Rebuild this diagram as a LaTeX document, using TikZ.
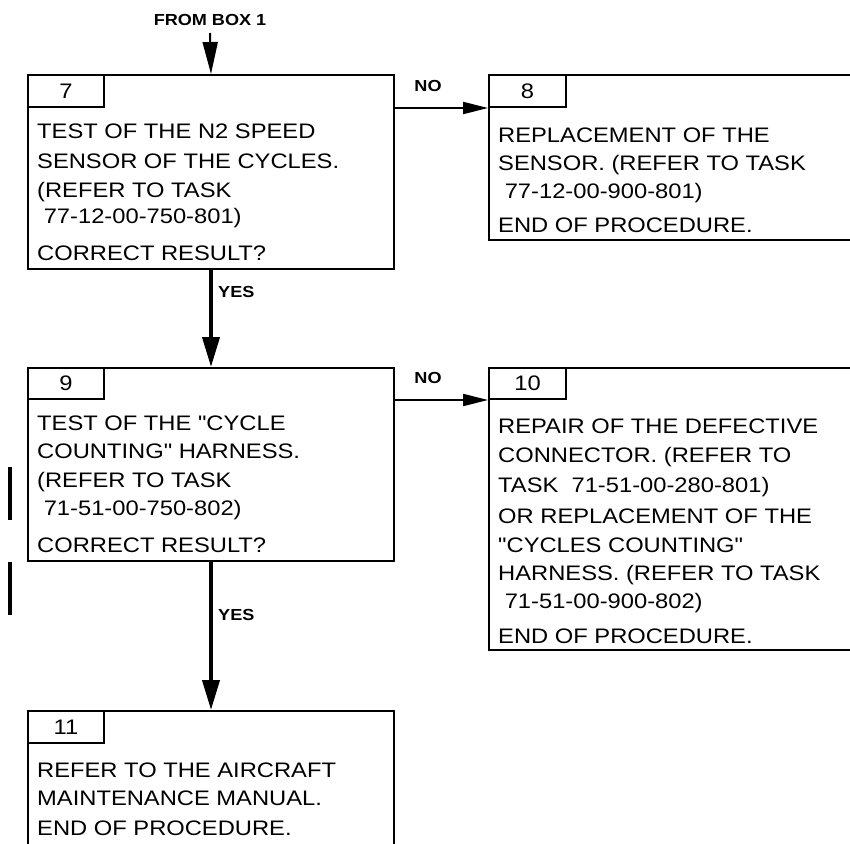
\documentclass[tikz,border=0pt]{standalone}
\usepackage{fontspec}
\setmainfont{Liberation Sans}[FakeStretch=1.13,Ligatures=TeXOff]
\usetikzlibrary{arrows.meta}
\newcommand{\bodyfnt}{\fontsize{21}{28}\selectfont}
\newcommand{\lblfnt}{\fontsize{16}{18}\selectfont\bfseries}
\begin{document}
\begin{tikzpicture}[x=1pt,y=-1pt,
  boxnode/.style={draw,line width=2pt,rectangle,anchor=north west,inner sep=0pt},
  tabnode/.style={draw,line width=2pt,rectangle,anchor=north west,inner sep=0pt,
     minimum width=76pt,minimum height=32pt,font=\bodyfnt},
  txt/.style={anchor=base west,inner sep=0pt,font=\bodyfnt},
  lbl/.style={inner sep=0pt,font=\lblfnt},
  bigarrow/.style={line width=4pt,-{Triangle[length=30pt,width=17pt]}},
  thinarrow/.style={line width=2pt,-{Triangle[length=32pt,width=15pt]}},
  sidearrow/.style={line width=2pt,-{Triangle[length=25pt,width=12pt]}},
  chgbar/.style={line width=4pt}]
\useasboundingbox (0,0) rectangle (850,843);
\clip (0,0) rectangle (850,843);
% boxes
\node[boxnode,minimum width=366pt,minimum height=194pt] (b7) at (27,74) {};
\node[tabnode] (t7) at (27,74) {7};
\node[boxnode,minimum width=390pt,minimum height=165pt] (b8) at (488,74) {};
\node[tabnode,minimum width=77pt] (t8) at (488,74) {8};
\node[boxnode,minimum width=366pt,minimum height=193pt] (b9) at (27,367) {};
\node[tabnode,minimum height=31pt] (t9) at (27,367) {9};
\node[boxnode,minimum width=390pt,minimum height=282pt] (b10) at (488,367) {};
\node[tabnode,minimum width=77pt,minimum height=31pt] (t10) at (488,367) {10};
\node[boxnode,minimum width=366pt,minimum height=160pt] (b11) at (27,710) {};
\node[tabnode] (t11) at (27,710) {11};
% box 7 text
\node[txt] (l7a) at (37,138) {TEST OF THE N2 SPEED};
\node[txt] (l7b) at (37,168) {SENSOR OF THE CYCLES.};
\node[txt] (l7c) at (37,197) {(REFER TO TASK};
\node[txt] (l7d) at (37,223) {\ 77-12-00-750-801)};
\node[txt] (l7e) at (37,260) {CORRECT RESULT?};
% box 8 text
\node[txt] (l8a) at (498,142) {REPLACEMENT OF THE};
\node[txt] (l8b) at (498,170) {SENSOR. (REFER TO TASK};
\node[txt] (l8c) at (498,198) {\ 77-12-00-900-801)};
\node[txt] (l8d) at (498,232) {END OF PROCEDURE.};
% box 9 text
\node[txt] (l9a) at (37,430) {TEST OF THE "CYCLE};
\node[txt] (l9b) at (37,458) {COUNTING" HARNESS.};
\node[txt] (l9c) at (37,487) {(REFER TO TASK};
\node[txt] (l9d) at (37,515) {\ 71-51-00-750-802)};
\node[txt] (l9e) at (37,552) {CORRECT RESULT?};
% box 10 text
\node[txt] (l10a) at (498,433) {REPAIR OF THE DEFECTIVE};
\node[txt] (l10b) at (498,462) {CONNECTOR. (REFER TO};
\node[txt] (l10c) at (498,492) {TASK\ \ 71-51-00-280-801)};
\node[txt] (l10d) at (498,523) {OR REPLACEMENT OF THE};
\node[txt] (l10e) at (498,552) {"CYCLES COUNTING"};
\node[txt] (l10f) at (498,580) {HARNESS. (REFER TO TASK};
\node[txt] (l10g) at (498,608) {\ 71-51-00-900-802)};
\node[txt] (l10h) at (498,643) {END OF PROCEDURE.};
% box 11 text
\node[txt] (l11a) at (37,777) {REFER TO THE AIRCRAFT};
\node[txt] (l11b) at (37,805) {MAINTENANCE MANUAL.};
\node[txt] (l11c) at (37,835) {END OF PROCEDURE.};
% labels
\node[lbl,anchor=base] (from) at (210,26) {FROM BOX 1};
\coordinate (fromend) at (210,33);
\node[lbl,anchor=base] (no1) at (428,91) {NO};
\node[lbl,anchor=base] (no2) at (428,383) {NO};
\node[lbl,anchor=base west] (yes1) at (218,297) {YES};
\node[lbl,anchor=base west] (yes2) at (218,620) {YES};
% connectors
\draw[thinarrow] (fromend) -- (b7.north);
\draw[bigarrow] (b7.south) -- (b9.north);
\draw[bigarrow] (b9.south) -- (b11.north);
\draw[sidearrow] (b7.east |- t8.south) -- (t8.south west);
\draw[sidearrow] (b9.east |- t10.south) -- (t10.south west);
% change bars
\coordinate (c1a) at (10,467); \coordinate (c1b) at (10,520);
\coordinate (c2a) at (10,562); \coordinate (c2b) at (10,615);
\draw[chgbar] (c1a) -- (c1b);
\draw[chgbar] (c2a) -- (c2b);
\end{tikzpicture}
\end{document}
